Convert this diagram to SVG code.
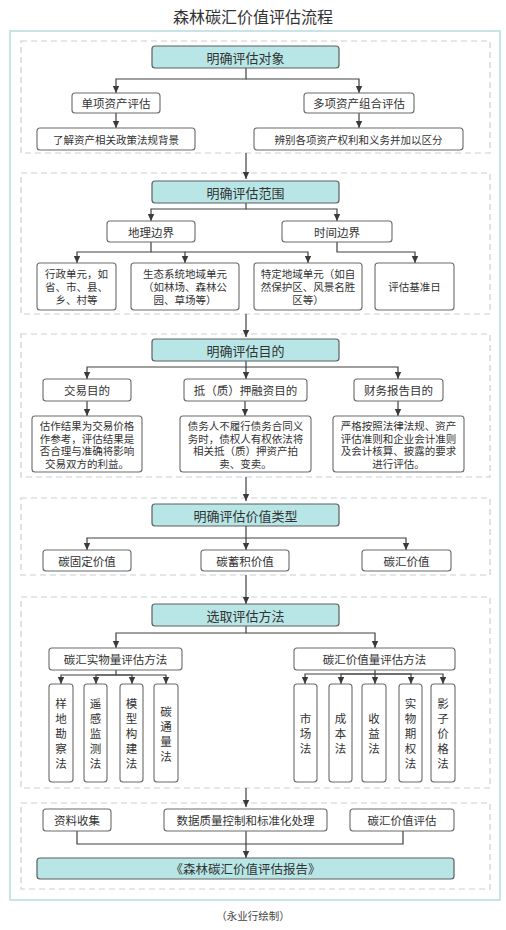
<svg xmlns="http://www.w3.org/2000/svg" width="506" height="930" viewBox="0 0 506 930">
<defs>
<marker id="ah" markerUnits="userSpaceOnUse" markerWidth="8" markerHeight="8" refX="7" refY="4" orient="auto">
<path d="M0,0.8 L7,4 L0,7.2 z" fill="#3a3a3a"/>
</marker>
<style>
text{font-family:"Noto Sans CJK SC","Noto Sans",sans-serif;fill:#333;text-anchor:middle;dominant-baseline:central}
.title{font-size:16px}
.hd rect{fill:#b8e6e6;stroke:#5e5e5e;stroke-width:1.2}
.hd text{font-size:13px}
.bx rect{fill:#fff;stroke:#6a6a6a;stroke-width:1.1}
.bx text{font-size:11.5px}
.sm text{font-size:10.5px}
.sec{fill:none;stroke:#c9cfcf;stroke-width:1.2;stroke-dasharray:6 4}
.conn path{fill:none;stroke:#404040;stroke-width:1.2;marker-end:url(#ah)}
.conn path.nm{marker-end:none}
.note{font-size:10.5px;fill:#444}
</style>
</defs>
<rect x="0" y="0" width="506" height="930" fill="#fff"/>
<text class="title" x="253" y="16">森林碳汇价值评估流程</text>
<rect x="10" y="31" width="490" height="869" fill="#fff" stroke="#c3e2e2" stroke-width="1.8"/>

<g id="sections">
<rect class="sec" x="21" y="41" width="469" height="112"/>
<rect class="sec" x="21" y="173" width="469" height="141"/>
<rect class="sec" x="21" y="334" width="469" height="143"/>
<rect class="sec" x="21" y="498" width="469" height="77"/>
<rect class="sec" x="21" y="597" width="469" height="191"/>
<rect class="sec" x="21" y="803" width="469" height="86"/>
</g>

<g id="connectors" class="conn">
<!-- section 1 -->
<path d="M246,68 V79 H116 V93"/>
<path d="M246,79 H359 V93"/>
<path d="M116,113 V128"/>
<path d="M359,113 V128"/>
<path d="M246,153 V179"/>
<!-- section 2 -->
<path d="M246,203 V209 H151 V221"/>
<path d="M246,209 H337 V221"/>
<path d="M151,242 V252 H77 V263"/>
<path d="M151,252 H185 V263"/>
<path d="M185,252 H308 V263"/>
<path d="M337,242 V252 H415 V263"/>
<path d="M246,314 V337"/>
<!-- section 3 -->
<path d="M246,361 V367 H87 V379"/>
<path d="M246,367 V379"/>
<path d="M246,367 H398 V379"/>
<path d="M87,401 V416"/>
<path d="M245,401 V416"/>
<path d="M398,401 V416"/>
<path d="M246,477 V501"/>
<!-- section 4 -->
<path d="M246,526 V538 H87 V550"/>
<path d="M246,538 V550"/>
<path d="M246,538 H406 V550"/>
<path d="M246,575 V604"/>
<!-- section 5 -->
<path d="M246,626 V633 H116 V648"/>
<path d="M246,633 H375 V648"/>
<path d="M116,670 V675 H61 V684"/>
<path d="M116,675 H96 V684"/>
<path d="M116,675 H132 V684"/>
<path d="M116,675 H166 V684"/>
<path d="M375,670 V674 H305 V684"/>
<path d="M375,674 H341 V684"/>
<path d="M375,674 V684"/>
<path d="M375,674 H411 V684"/>
<path d="M375,674 H443 V684"/>
<path d="M246,788 V807"/>
<!-- section 6 -->
<path class="nm" d="M77,831 V844 H403 V831"/>
<path d="M246,831 V858"/>
</g>

<g id="n-obj" class="hd"><rect x="152" y="46" width="187" height="22" rx="3"/><text x="245.5" y="57">明确评估对象</text></g>
<g id="n-single" class="bx"><rect x="72" y="93" width="88" height="20" rx="3"/><text x="116" y="103">单项资产评估</text></g>
<g id="n-multi" class="bx"><rect x="304" y="93" width="110" height="20" rx="3"/><text x="359" y="103">多项资产组合评估</text></g>
<g id="n-policy" class="bx sm"><rect x="37" y="128" width="158" height="22" rx="3"/><text x="116" y="139">了解资产相关政策法规背景</text></g>
<g id="n-rights" class="bx sm"><rect x="254" y="128" width="209" height="22" rx="3"/><text x="358.5" y="139">辨别各项资产权利和义务并加以区分</text></g>

<g id="n-scope" class="hd"><rect x="152" y="181" width="187" height="22" rx="3"/><text x="245.5" y="192">明确评估范围</text></g>
<g id="n-geo" class="bx"><rect x="107" y="221" width="88" height="21" rx="3"/><text x="151" y="231.5">地理边界</text></g>
<g id="n-time" class="bx"><rect x="282" y="221" width="110" height="21" rx="3"/><text x="337" y="231.5">时间边界</text></g>
<g id="n-admin" class="bx sm"><rect x="37" y="263" width="79" height="47" rx="3"/><text x="76.5" y="273.5">行政单元，如</text><text x="76.5" y="286.5">省、市、县、</text><text x="76.5" y="299.5">乡、村等</text></g>
<g id="n-eco" class="bx sm"><rect x="131" y="263" width="108" height="47" rx="3"/><text x="185" y="273.5">生态系统地域单元</text><text x="185" y="286.5">（如林场、森林公</text><text x="185" y="299.5">园、草场等）</text></g>
<g id="n-special" class="bx sm"><rect x="254" y="263" width="108" height="47" rx="3"/><text x="308" y="273.5">特定地域单元（如自</text><text x="308" y="286.5">然保护区、风景名胜</text><text x="308" y="299.5">区等）</text></g>
<g id="n-date" class="bx sm"><rect x="375" y="263" width="79" height="47" rx="3"/><text x="414.5" y="286.5">评估基准日</text></g>

<g id="n-purpose" class="hd"><rect x="152" y="339" width="187" height="22" rx="3"/><text x="245.5" y="350">明确评估目的</text></g>
<g id="n-trade" class="bx"><rect x="43" y="379" width="88" height="22" rx="3"/><text x="87" y="390">交易目的</text></g>
<g id="n-mortgage" class="bx"><rect x="184" y="379" width="123" height="22" rx="3"/><text x="245.5" y="390">抵（质）押融资目的</text></g>
<g id="n-finance" class="bx"><rect x="354" y="379" width="89" height="22" rx="3"/><text x="398.5" y="390">财务报告目的</text></g>
<g id="n-trade-d" class="bx sm"><rect x="32" y="416" width="110" height="56" rx="3"/><text x="87" y="425.5">估作结果为交易价格</text><text x="87" y="438">作参考，评估结果是</text><text x="87" y="450.5">否合理与准确将影响</text><text x="87" y="463">交易双方的利益。</text></g>
<g id="n-mortgage-d" class="bx sm"><rect x="180" y="416" width="131" height="56" rx="3"/><text x="245.5" y="425.5">债务人不履行债务合同义</text><text x="245.5" y="438">务时，债权人有权依法将</text><text x="245.5" y="450.5">相关抵（质）押资产拍</text><text x="245.5" y="463">卖、变卖。</text></g>
<g id="n-finance-d" class="bx sm"><rect x="333" y="416" width="131" height="56" rx="3"/><text x="398.5" y="425.5">严格按照法律法规、资产</text><text x="398.5" y="438">评估准则和企业会计准则</text><text x="398.5" y="450.5">及会计核算、披露的要求</text><text x="398.5" y="463">进行评估。</text></g>

<g id="n-type" class="hd"><rect x="152" y="504" width="187" height="22" rx="3"/><text x="245.5" y="515">明确评估价值类型</text></g>
<g id="n-fix" class="bx"><rect x="43" y="550" width="88" height="21" rx="3"/><text x="87" y="560.5">碳固定价值</text></g>
<g id="n-stock" class="bx"><rect x="201" y="550" width="88" height="21" rx="3"/><text x="245" y="560.5">碳蓄积价值</text></g>
<g id="n-sink" class="bx"><rect x="362" y="550" width="89" height="21" rx="3"/><text x="406.5" y="560.5">碳汇价值</text></g>

<g id="n-method" class="hd"><rect x="152" y="604" width="187" height="22" rx="3"/><text x="245.5" y="615">选取评估方法</text></g>
<g id="n-phys" class="bx"><rect x="49" y="648" width="133" height="22" rx="3"/><text x="115.5" y="659">碳汇实物量评估方法</text></g>
<g id="n-val" class="bx"><rect x="294" y="648" width="161" height="22" rx="3"/><text x="374.5" y="659">碳汇价值量评估方法</text></g>
<g id="n-m1" class="bx"><rect x="49" y="684" width="24" height="98" rx="3"/><text x="61" y="703">样</text><text x="61" y="718">地</text><text x="61" y="733">勘</text><text x="61" y="748">察</text><text x="61" y="763">法</text></g>
<g id="n-m2" class="bx"><rect x="84" y="684" width="23" height="98" rx="3"/><text x="95.5" y="703">遥</text><text x="95.5" y="718">感</text><text x="95.5" y="733">监</text><text x="95.5" y="748">测</text><text x="95.5" y="763">法</text></g>
<g id="n-m3" class="bx"><rect x="120" y="684" width="23" height="98" rx="3"/><text x="131.5" y="703">模</text><text x="131.5" y="718">型</text><text x="131.5" y="733">构</text><text x="131.5" y="748">建</text><text x="131.5" y="763">法</text></g>
<g id="n-m4" class="bx"><rect x="154" y="684" width="24" height="98" rx="3"/><text x="166" y="711">碳</text><text x="166" y="726">通</text><text x="166" y="741">量</text><text x="166" y="756">法</text></g>
<g id="n-v1" class="bx"><rect x="294" y="684" width="23" height="98" rx="3"/><text x="305.5" y="718">市</text><text x="305.5" y="733">场</text><text x="305.5" y="748">法</text></g>
<g id="n-v2" class="bx"><rect x="329" y="684" width="23" height="98" rx="3"/><text x="340.5" y="718">成</text><text x="340.5" y="733">本</text><text x="340.5" y="748">法</text></g>
<g id="n-v3" class="bx"><rect x="362" y="684" width="24" height="98" rx="3"/><text x="374" y="718">收</text><text x="374" y="733">益</text><text x="374" y="748">法</text></g>
<g id="n-v4" class="bx"><rect x="399" y="684" width="23" height="98" rx="3"/><text x="410.5" y="703">实</text><text x="410.5" y="718">物</text><text x="410.5" y="733">期</text><text x="410.5" y="748">权</text><text x="410.5" y="763">法</text></g>
<g id="n-v5" class="bx"><rect x="431" y="684" width="24" height="98" rx="3"/><text x="443" y="703">影</text><text x="443" y="718">子</text><text x="443" y="733">价</text><text x="443" y="748">格</text><text x="443" y="763">法</text></g>

<g id="n-collect" class="bx"><rect x="43" y="809" width="68" height="22" rx="3"/><text x="77" y="820">资料收集</text></g>
<g id="n-quality" class="bx"><rect x="164" y="809" width="163" height="22" rx="3"/><text x="245.5" y="820">数据质量控制和标准化处理</text></g>
<g id="n-assess" class="bx"><rect x="350" y="809" width="104" height="22" rx="3"/><text x="402" y="820">碳汇价值评估</text></g>
<g id="n-report" class="hd"><rect x="37" y="858" width="417" height="21" rx="3"/><text x="245.5" y="868.5" style="font-size:12.5px">《森林碳汇价值评估报告》</text></g>

<text class="note" x="253" y="915">（永业行绘制）</text>
</svg>
